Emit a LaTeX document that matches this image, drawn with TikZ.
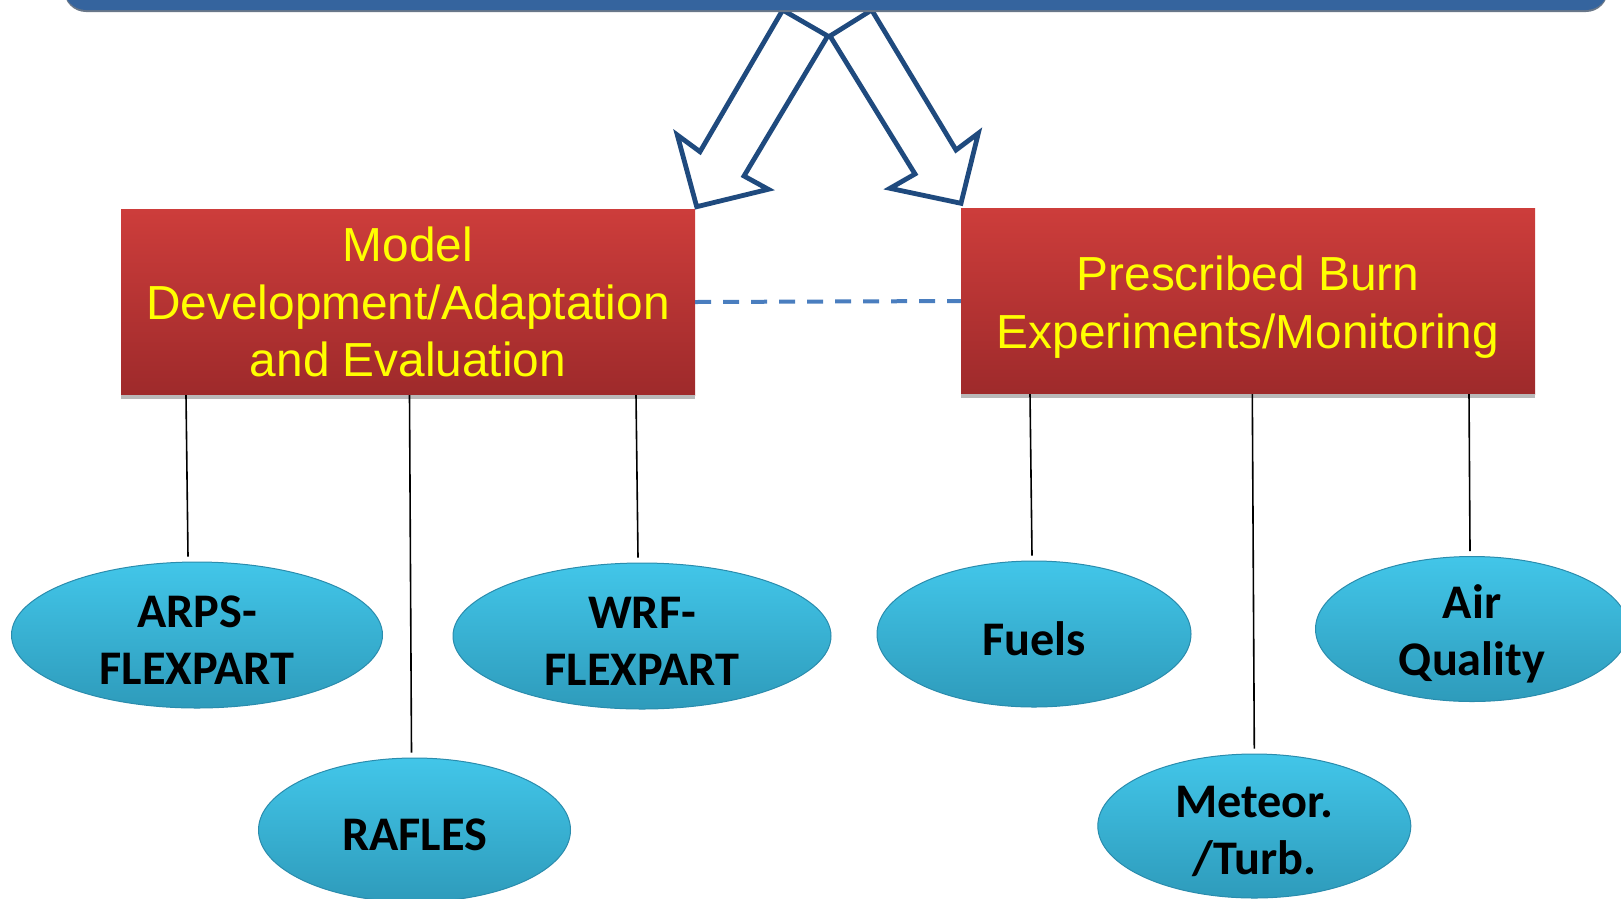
\documentclass[tikz,border=0pt]{standalone}
\usepackage{fontspec}
\setmainfont{Liberation Sans}
\newfontfamily\calfont{Carlito}
\usetikzlibrary{shapes.geometric,calc}
\definecolor{barblue}{HTML}{35649E}
\definecolor{arrowblue}{HTML}{1F4A7E}
\definecolor{dashblue}{HTML}{4A7EBF}
\definecolor{boxtop}{HTML}{CD3D3B}
\definecolor{boxbot}{HTML}{9E2A2B}
\definecolor{bubtop}{HTML}{42C6E9}
\definecolor{bubbot}{HTML}{2E9BBB}
\definecolor{bubedge}{HTML}{2A8CAD}
\definecolor{txtyellow}{HTML}{FFFF00}
\tikzset{
  redbox/.style={rectangle, inner sep=0pt, top color=boxtop, bottom color=boxbot, draw=none,
    minimum width=574pt, minimum height=186pt},
  boxtext/.style={text=txtyellow, align=center, inner sep=0pt, font=\fontsize{47.8}{57.5}\selectfont},
  bub/.style={ellipse, inner sep=0pt, top color=bubtop, bottom color=bubbot, draw=bubedge, line width=1pt,
    minimum width=313pt, minimum height=145pt},
  bubtext/.style={align=center, text=black, yshift=-5pt, font=\calfont\bfseries\fontsize{48.3}{57}\selectfont},
  conn/.style={draw=black, line width=1.6pt},
  bigarrow/.style={draw=arrowblue, line width=4.8pt, fill=white, line join=miter},
  linkdash/.style={draw=dashblue, line width=4pt, dash pattern=on 16pt off 12pt},
}
\begin{document}
\begin{tikzpicture}[x=1pt,y=-1pt]
\useasboundingbox (0,0) rectangle (1621,898);
\begin{scope}
\clip (0,0) rectangle (1621,898);
% big arrows
\draw[bigarrow] (782.7,10) -- (827.7,36) -- (744,176) -- (768.3,189.3) -- (696.7,206.7) -- (677.3,135) -- (700,151.7) -- cycle;
\draw[bigarrow] (871.7,10) -- (830,36) -- (915,174) -- (890,188.3) -- (961,203.3) -- (978.3,133.3) -- (956,150) -- cycle;
% top bar
\fill[gray!70!barblue, rounded corners=22pt] (64,-40) rectangle (1608,12);
\fill[barblue, rounded corners=22pt] (64,-40) rectangle (1608,10);
% boxes
\node[redbox] (lbox) at (408,302) {};
\node[boxtext] at (lbox) {Model\\Development/Adaptation\\and Evaluation};
\node[redbox] (rbox) at (1248,301) {};
\node[boxtext, yshift=-6pt] at (rbox) {Prescribed Burn\\Experiments/Monitoring};
\fill[gray!55] (lbox.south west) rectangle ([yshift=-4pt]lbox.south east);
\fill[gray!55] (rbox.south west) rectangle ([yshift=-4pt]rbox.south east);
\draw[linkdash] (lbox.east) -- (rbox.west);
% ellipses
\node[bub, minimum width=371pt, minimum height=146pt] (arps) at (197,635) {};
\node[bubtext] at (arps) {ARPS-\\FLEXPART};
\node[bub, minimum width=312pt, minimum height=144pt] (rafles) at (414.5,830) {};
\node[bubtext] at (rafles) {RAFLES};
\node[bub, minimum width=378pt, minimum height=146pt] (wrf) at (642,636) {};
\node[bubtext] at (wrf) {WRF-\\FLEXPART};
\node[bub, minimum width=314pt, minimum height=146pt] (fuels) at (1034,634) {};
\node[bubtext] at (fuels) {Fuels};
\node[bub, minimum width=313pt, minimum height=144pt] (met) at (1254.3,826) {};
\node[bubtext] at (met) {Meteor.\\/Turb.};
\node[bub, minimum width=313pt, minimum height=145pt] (air) at (1472,629) {};
\node[bubtext] at (air) {Air\\Quality};
% connectors
\draw[conn] ([xshift=-11pt]arps.north |- lbox.south) -- ([xshift=-9pt,yshift=5pt]arps.north);
\draw[conn] ([xshift=-5pt]rafles.north |- lbox.south) -- ([xshift=-3pt,yshift=5pt]rafles.north);
\draw[conn] ([xshift=-6pt]wrf.north |- lbox.south) -- ([xshift=-4pt,yshift=5pt]wrf.north);
\draw[conn] ([xshift=-4pt]fuels.north |- rbox.south) -- ([xshift=-2pt,yshift=5pt]fuels.north);
\draw[conn] ([xshift=-2pt]met.north |- rbox.south) -- ([xshift=0pt,yshift=5pt]met.north);
\draw[conn] ([xshift=-3pt]air.north |- rbox.south) -- ([xshift=-2pt,yshift=5pt]air.north);
\end{scope}
\end{tikzpicture}
\end{document}
